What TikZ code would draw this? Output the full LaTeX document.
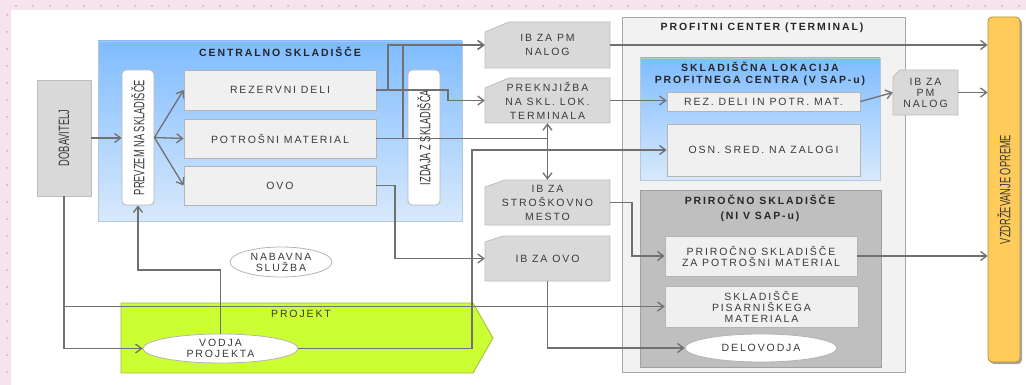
\documentclass[tikz,border=0pt]{standalone}
\usepackage{graphicx}
\usepackage{fontspec}
\setmainfont{Liberation Sans}[LetterSpace=18]
\newfontfamily\condfont{Liberation Sans}[FakeStretch=0.62]
\usetikzlibrary{arrows.meta,shapes.geometric,calc}
\definecolor{pinkbg}{HTML}{F5E4EE}
\definecolor{pinkdot}{HTML}{DDA2C8}
\definecolor{boxfill}{HTML}{F0F0F0}
\definecolor{boxline}{HTML}{B4B4B4}
\definecolor{ibfill}{HTML}{D9D9D9}
\definecolor{ibline}{HTML}{BDBDBD}
\definecolor{pcfill}{HTML}{F2F2F2}
\definecolor{pcline}{HTML}{A8A8A8}
\definecolor{prifill}{HTML}{BFBFBF}
\definecolor{priline}{HTML}{A0A0A0}
\definecolor{blueA}{HTML}{7FBCFF}
\definecolor{blueB}{HTML}{D8E9FC}
\definecolor{blueline}{HTML}{B4C8DC}
\definecolor{projfill}{HTML}{CCFF33}
\definecolor{projline}{HTML}{9DBB3A}
\definecolor{yelfill}{HTML}{FFCC5C}
\definecolor{yelline}{HTML}{B0903C}
\definecolor{txt}{HTML}{3A3A3A}
\definecolor{connc}{HTML}{707070}
\newcommand{\lbl}{\fontsize{10.5}{14}\selectfont}
\newcommand{\vt}{\condfont\fontsize{15}{16}\selectfont}
\newcommand{\chamf}[6]{\filldraw[ibshape] (#1,#4) -- (#1,#2+#6) -- (#1+#5,#2) -- (#3,#2) -- (#3,#4) -- cycle;}
\tikzset{
  box/.style={draw=boxline, fill=boxfill, line width=0.8pt, font=\lbl, text=txt, align=center, inner sep=0pt},
  graybox/.style={box, fill=ibfill, draw=ibline},
  ibshape/.style={fill=ibfill, draw=ibline, line width=0.8pt},
  ibtext/.style={font=\lbl, text=txt, align=center, inner sep=0pt},
  vbox/.style={box, fill=white, rounded corners=4pt},
  bluebox/.style={draw=blueline, top color=blueA, bottom color=blueB, line width=0.8pt, inner sep=0pt},
  pcbox/.style={draw=pcline, fill=pcfill, line width=0.8pt, inner sep=0pt},
  pribox/.style={draw=priline, fill=prifill, line width=0.8pt, inner sep=0pt},
  titlef/.style={font=\lbl\bfseries, text=black!85, align=center, inner sep=0pt},
  plain/.style={font=\lbl, text=txt, align=center, inner sep=0pt},
  oval/.style={ellipse, draw=boxline, fill=white, line width=0.8pt, font=\lbl, text=txt, align=center, inner sep=0pt},
  conn/.style={draw=connc, line width=1.3pt},
  arr/.style={conn, -{Straight Barb[length=6pt,width=9pt]}},
  darr/.style={conn, {Straight Barb[length=6pt,width=9pt]}-{Straight Barb[length=6pt,width=9pt]}},
}
\begin{document}
\begin{tikzpicture}[x=1pt,y=-1pt]
\useasboundingbox (0,0) rectangle (1026,385);
% page background
\fill[pinkbg] (0,0) rectangle (1026,385);
\foreach \i in {0,...,59} \fill[pinkdot] (16+\i*17,6) circle (1);
\foreach \j in {0,...,21} \fill[pinkdot] (7,15+\j*17) circle (1);
\fill[white] (11,10) rectangle (1026,385);

% large containers
\node[pcbox, minimum width=283, minimum height=355] (pc) at (763.5,194.5) {};
\node[titlef] (pctitle) at (762,28) {PROFITNI CENTER (TERMINAL)};
\node[bluebox, minimum width=240, minimum height=122] (skl) at (760,119) {};
\node[titlef] (skltitle) at (760,74) {SKLADIŠČNA LOKACIJA\\[-2.5pt]PROFITNEGA CENTRA (V SAP-u)};
\node[pribox, minimum width=241, minimum height=177] (pri) at (760.5,278.5) {};
\node[titlef] (prititle) at (760,200) {PRIROČNO SKLADIŠČE};
\node[titlef] (prisub) at (760,217) {(NI V SAP-u)};

\node[bluebox, minimum width=364, minimum height=180] (central) at (280,131) {};
\node[titlef] (ctitle) at (280,52) {CENTRALNO SKLADIŠČE};

\filldraw[fill=projfill, draw=projline, line width=0.8pt] (121,303) -- (473,303) -- (493,338) -- (473,373) -- (121,373) -- cycle;
\node[plain] (projtitle) at (301,314) {PROJEKT};

% left side
\node[graybox, minimum width=54, minimum height=116] (dob) at (64,138) {\rotatebox{90}{\vt DOBAVITELJ}};
\node[vbox, minimum width=32, minimum height=135] (prevzem) at (138,137.5) {\rotatebox{90}{\vt PREVZEM NA SKLADIŠČE}};
\node[box, minimum width=192, minimum height=40] (rez) at (280,90) {REZERVNI DELI};
\node[box, minimum width=192, minimum height=39] (potr) at (280,138.5) {POTROŠNI MATERIAL};
\node[box, minimum width=192, minimum height=39] (ovo) at (280,185.5) {OVO};
\node[vbox, minimum width=32, minimum height=135] (izdaja) at (424,137.5) {\rotatebox{90}{\vt IZDAJA Z SKLADIŠČA}};
\node[oval, minimum width=102, minimum height=30] (nab) at (281,262) {NABAVNA\\[-3pt]SLUŽBA};
\node[oval, minimum width=155, minimum height=29] (vodja) at (220.5,348.5) {VODJA\\[-3pt]PROJEKTA};

% IB column
\chamf{485}{22}{610}{68}{24}{10}
\node[ibtext, minimum width=125, minimum height=46] (ibpm) at (547.5,45) {IB ZA PM\\NALOG};
\chamf{485}{78}{610}{123}{24}{10}
\node[ibtext, minimum width=125, minimum height=45] (prek) at (547.5,100.5) {PREKNJIŽBA\\NA SKL. LOK.\\TERMINALA};
\chamf{485}{180}{610}{225}{20}{7}
\node[ibtext, minimum width=125, minimum height=45] (ibsm) at (547.5,202.5) {IB ZA\\STROŠKOVNO\\MESTO};
\chamf{485}{236}{610}{281}{18}{6}
\node[ibtext, minimum width=125, minimum height=45] (ibovo) at (547.5,258.5) {IB ZA OVO};

% profit centre contents
\node[box, minimum width=193, minimum height=19] (rezpm) at (763.5,101.5) {REZ. DELI IN POTR. MAT.};
\node[box, minimum width=193, minimum height=52] (osn) at (763.5,150) {OSN. SRED. NA ZALOGI};
\chamf{893}{70}{958}{115}{7}{7}
\node[ibtext, minimum width=65, minimum height=45] (ibpm2) at (925.5,92.5) {IB ZA\\[-3pt]PM\\[-3pt]NALOG};
\node[box, minimum width=192, minimum height=40] (pripm) at (761,256) {PRIROČNO SKLADIŠČE\\[-3pt]ZA POTROŠNI MATERIAL};
\node[box, minimum width=193, minimum height=41] (pis) at (761.5,306.5) {SKLADIŠČE\\[-3pt]PISARNIŠKEGA\\[-3pt]MATERIALA};
\node[oval, minimum width=152, minimum height=28] (delo) at (761,348) {DELOVODJA};

% right bar
\fill[black!35, rounded corners=4pt] (990,19) rectangle (1022,364);
\node[box, fill=yelfill, draw=yelline, rounded corners=4pt, minimum width=32, minimum height=345] (vzd) at (1004,189.5) {\rotatebox{90}{\vt VZDRŽEVANJE OPREME}};

% junction coordinates
\coordinate (v1) at (138,270);
\coordinate (j1) at (472,250);
\coordinate (r1) at (388,90);
\coordinate (r2) at (448,95);
\coordinate (p1) at (403,138.5);
\coordinate (p2) at (547.5,138.5);
\coordinate (o1) at (395,220);
\coordinate (s1) at (632,230);

% connectors
\draw[arr] (dob.east) -- (prevzem.west |- dob.east);
\draw[arr] (prevzem.east) -- (rez.west);
\draw[arr] (prevzem.east) -- (potr.west);
\draw[arr] (prevzem.east) -- (ovo.west);
\draw[arr] (dob.south) |- (pis.west);
\draw[arr] (dob.south) |- (vodja.west);
\draw[arr] (vodja.north) |- (v1) -- (prevzem.south);
\draw[arr] (vodja.east) -| (j1) |- (osn.west);
\draw[arr] (rez.east) -- (r1) |- (ibpm.west);
\draw[arr] (rez.east) -| (r2) |- (prek.west);
\draw[arr] (potr.east) -- (p1) |- (ibpm.west);
\draw[conn] (potr.east) -- (p2);
\draw[darr] (prek.south) -- (ibsm.north);
\draw[arr] (ovo.east) -| (o1) |- (ibovo.west);
\draw[arr] (ibpm.east) -- (ibpm.east -| vzd.west);
\draw[arr] (prek.east) -- (prek.east -| rezpm.west);
\draw[arr] (rezpm.east) -- (ibpm2.west);
\draw[arr] (ibpm2.east) -- (ibpm2.east -| vzd.west);
\draw[arr] (ibsm.east) -| (s1) |- (pripm.west);
\draw[arr] (ibovo.south) |- (delo.west);
\draw[arr] (pripm.east) -- (pripm.east -| vzd.west);
\end{tikzpicture}
\end{document}
